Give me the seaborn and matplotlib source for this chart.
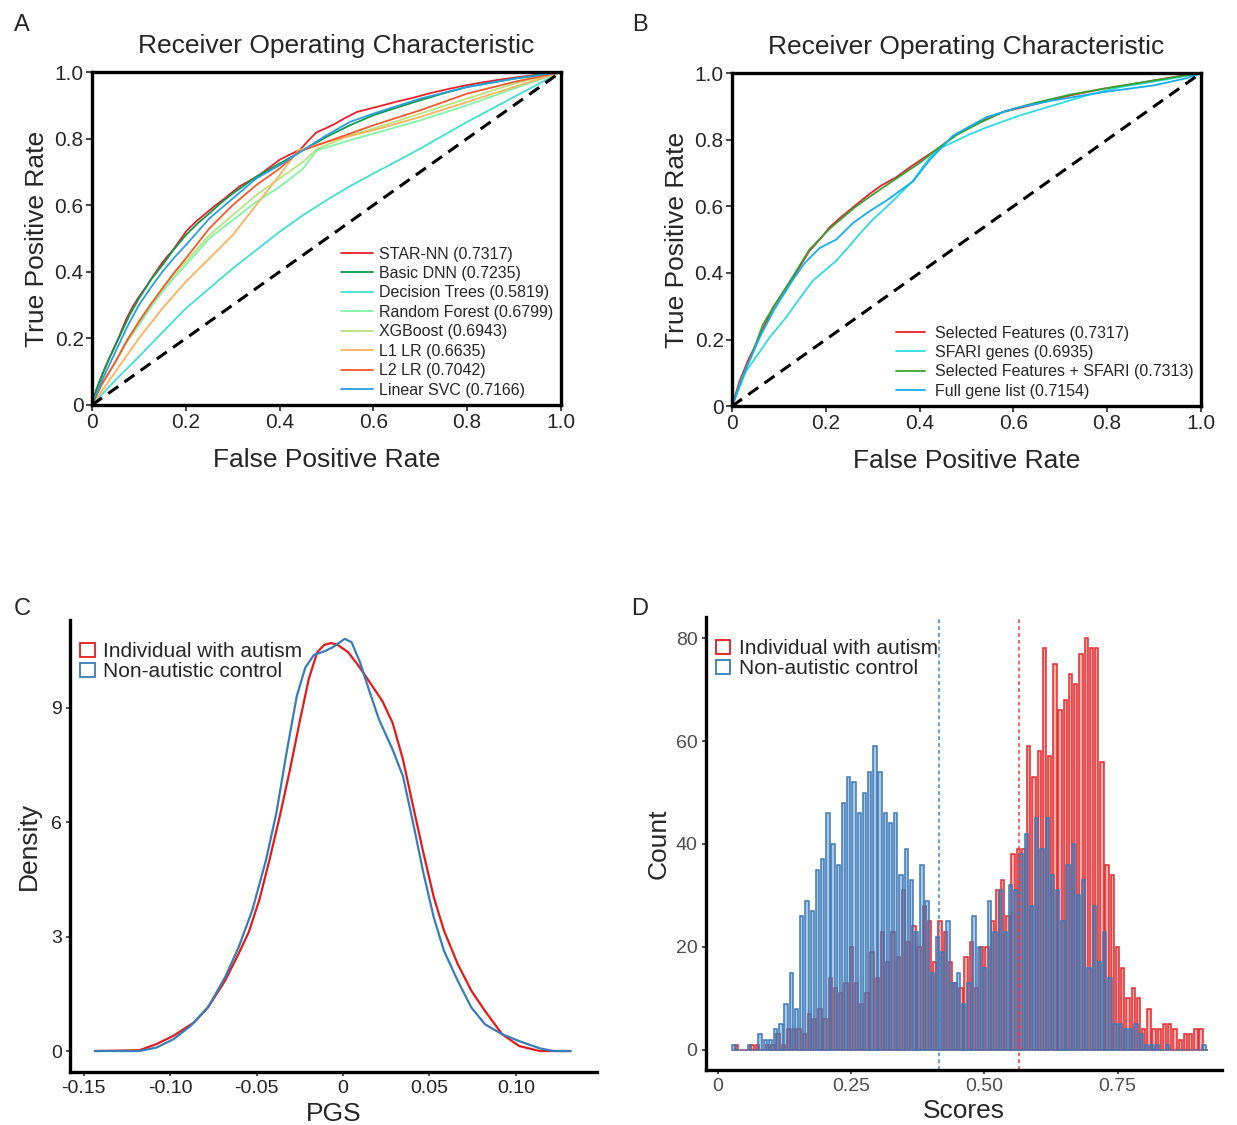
import numpy as np
import pandas as pd
import matplotlib
matplotlib.use("Agg")
import matplotlib.pyplot as plt
from matplotlib.patches import Patch
import seaborn as sns

# ---------------- panel A: ROC of the classifiers ----------------
star_fpr = [0, 0.009, 0.023, 0.04, 0.058, 0.072, 0.087, 0.1, 0.116, 0.13, 0.144, 0.158, 0.173, 0.187,
            0.201, 0.222, 0.244, 0.262, 0.280, 0.298, 0.315, 0.336, 0.358, 0.38, 0.401, 0.422, 0.444,
            0.462, 0.479, 0.497, 0.515, 0.54, 0.565, 0.59, 0.615, 0.65, 0.686, 0.72, 0.757, 0.79, 0.829,
            0.865, 0.900, 0.95, 1.0]
star_tpr = [0, 0.045, 0.095, 0.15, 0.206, 0.255, 0.296, 0.325, 0.356, 0.387, 0.416, 0.442, 0.466, 0.494,
            0.522, 0.551, 0.577, 0.598, 0.617, 0.638, 0.657, 0.673, 0.692, 0.715, 0.737, 0.752, 0.767,
            0.795, 0.819, 0.830, 0.842, 0.862, 0.880, 0.889, 0.898, 0.911, 0.923, 0.936, 0.948, 0.958,
            0.968, 0.976, 0.983, 0.992, 1.0]
dnn_fpr = [0, 0.01, 0.03, 0.045, 0.06, 0.08, 0.1, 0.125, 0.15, 0.175, 0.2, 0.225, 0.25, 0.275, 0.3, 0.35,
           0.4, 0.45, 0.5, 0.55, 0.6, 0.65, 0.7, 0.75, 0.8, 0.9, 1]
dnn_tpr = [0, 0.05, 0.12, 0.165, 0.21, 0.27, 0.32, 0.375, 0.42, 0.468, 0.51, 0.545, 0.575, 0.607, 0.635,
           0.685, 0.725, 0.765, 0.805, 0.84, 0.87, 0.893, 0.915, 0.936, 0.955, 0.98, 1]
dt_fpr = [0, 0.05, 0.1, 0.15, 0.2, 0.25, 0.3, 0.35, 0.4, 0.45, 0.5, 0.55, 0.6, 0.65, 0.7, 0.8, 0.9, 1]
dt_tpr = [0, 0.075, 0.145, 0.218, 0.29, 0.35, 0.41, 0.465, 0.52, 0.57, 0.615, 0.657, 0.695, 0.732, 0.77,
          0.85, 0.925, 1]
rf_fpr = [0, 0.02, 0.05, 0.075, 0.1, 0.125, 0.15, 0.175, 0.2, 0.25, 0.3, 0.35, 0.4, 0.45, 0.48, 0.52,
          0.55, 0.6, 0.7, 0.8, 0.9, 1]
rf_tpr = [0, 0.06, 0.13, 0.19, 0.24, 0.293, 0.34, 0.383, 0.42, 0.50, 0.555, 0.61, 0.655, 0.71, 0.765,
          0.782, 0.795, 0.815, 0.855, 0.90, 0.95, 1]
xgb_fpr = [0, 0.02, 0.05, 0.075, 0.1, 0.125, 0.15, 0.175, 0.2, 0.25, 0.3, 0.35, 0.4, 0.45, 0.48, 0.52,
           0.55, 0.6, 0.7, 0.8, 0.9, 1]
xgb_tpr = [0, 0.06, 0.13, 0.195, 0.25, 0.302, 0.35, 0.393, 0.43, 0.51, 0.57, 0.63, 0.68, 0.73, 0.77,
           0.792, 0.81, 0.83, 0.875, 0.92, 0.965, 1]
l1_fpr = [0, 0.05, 0.1, 0.15, 0.2, 0.25, 0.3, 0.35, 0.4, 0.44, 0.5, 0.6, 0.7, 0.8, 0.9, 1]
l1_tpr = [0, 0.1, 0.2, 0.29, 0.37, 0.44, 0.51, 0.60, 0.69, 0.765, 0.79, 0.825, 0.865, 0.91, 0.955, 1]
l2_fpr = [0, 0.02, 0.05, 0.075, 0.1, 0.125, 0.15, 0.175, 0.2, 0.25, 0.3, 0.35, 0.4, 0.44, 0.5, 0.6, 0.7,
          0.8, 0.9, 1]
l2_tpr = [0, 0.06, 0.13, 0.195, 0.25, 0.302, 0.35, 0.397, 0.44, 0.53, 0.60, 0.66, 0.71, 0.76, 0.79, 0.84,
          0.885, 0.935, 0.97, 1]
svc_fpr = [0, 0.02, 0.05, 0.075, 0.1, 0.125, 0.15, 0.175, 0.2, 0.25, 0.3, 0.35, 0.4, 0.45, 0.5, 0.55,
           0.6, 0.7, 0.8, 0.9, 1]
svc_tpr = [0, 0.07, 0.16, 0.235, 0.30, 0.352, 0.40, 0.442, 0.48, 0.56, 0.62, 0.68, 0.72, 0.765, 0.81,
           0.85, 0.875, 0.92, 0.955, 0.98, 1]

models_a = ["STAR-NN (0.7317)", "Basic DNN (0.7235)", "Decision Trees (0.5819)",
            "Random Forest (0.6799)", "XGBoost (0.6943)", "L1 LR (0.6635)",
            "L2 LR (0.7042)", "Linear SVC (0.7166)"]
colors_a = ["#e8202a", "#0a9a4a", "#3fe0d0", "#7ff3a6", "#b8e37e", "#fbb25c", "#f5582a", "#2b9ee0"]
curves_a = [(star_fpr, star_tpr), (dnn_fpr, dnn_tpr), (dt_fpr, dt_tpr), (rf_fpr, rf_tpr),
            (xgb_fpr, xgb_tpr), (l1_fpr, l1_tpr), (l2_fpr, l2_tpr), (svc_fpr, svc_tpr)]

# ---------------- panel B: ROC of the feature sets ----------------
sel_fpr = [0, 0.016, 0.035, 0.058, 0.087, 0.13, 0.165, 0.19, 0.208, 0.232, 0.258, 0.293, 0.32, 0.35,
           0.375, 0.40, 0.443, 0.479, 0.528, 0.578, 0.65, 0.721, 0.792, 0.85, 0.899, 0.95, 1]
sel_tpr = [0, 0.075, 0.14, 0.206, 0.296, 0.386, 0.466, 0.505, 0.537, 0.567, 0.597, 0.637, 0.664, 0.687,
           0.713, 0.737, 0.777, 0.817, 0.853, 0.883, 0.908, 0.933, 0.953, 0.966, 0.978, 0.99, 1]
sfari_fpr = [0, 0.03, 0.08, 0.115, 0.145, 0.172, 0.2, 0.222, 0.25, 0.272, 0.3, 0.329, 0.36, 0.386,
             0.422, 0.445, 0.471, 0.505, 0.543, 0.614, 0.685, 0.756, 0.828, 0.88, 0.934, 1]
sfari_tpr = [0, 0.105, 0.206, 0.266, 0.325, 0.376, 0.41, 0.436, 0.48, 0.517, 0.56, 0.597, 0.64, 0.677,
             0.747, 0.775, 0.792, 0.815, 0.837, 0.873, 0.903, 0.933, 0.958, 0.97, 0.983, 1]
both_fpr = [0, 0.02, 0.045, 0.066, 0.09, 0.13, 0.165, 0.21, 0.26, 0.3, 0.35, 0.4, 0.44, 0.48, 0.53, 0.58,
            0.65, 0.72, 0.8, 0.9, 1]
both_tpr = [0, 0.08, 0.165, 0.246, 0.30, 0.39, 0.47, 0.535, 0.595, 0.635, 0.683, 0.73, 0.775, 0.815,
            0.852, 0.885, 0.912, 0.935, 0.955, 0.978, 1]
full_fpr = [0, 0.02, 0.06, 0.09, 0.13, 0.155, 0.187, 0.222, 0.258, 0.293, 0.329, 0.386, 0.422, 0.471,
            0.543, 0.614, 0.685, 0.792, 0.899, 0.97, 1]
full_tpr = [0, 0.08, 0.21, 0.29, 0.38, 0.43, 0.475, 0.50, 0.55, 0.585, 0.617, 0.675, 0.74, 0.812, 0.868,
            0.898, 0.918, 0.943, 0.963, 0.985, 1]

models_b = ["Selected Features (0.7317)", "SFARI genes (0.6935)",
            "Selected Features + SFARI (0.7313)", "Full gene list (0.7154)"]
colors_b = ["#e8202a", "#2edbe3", "#33a532", "#12aef0"]
curves_b = [(sel_fpr, sel_tpr), (sfari_fpr, sfari_tpr), (both_fpr, both_tpr), (full_fpr, full_tpr)]

chance = [0, 1]

# ---------------- panel C: PGS density ----------------
pgs_asd = [-0.1436, -0.1179, -0.1080, -0.0981, -0.0862, -0.0782, -0.0683, -0.0604, -0.0545, -0.0485,
           -0.0426, -0.0366, -0.0307, -0.0248, -0.0198, -0.0149, -0.0109, -0.0069, -0.0030, 0.0030,
           0.0089, 0.0149, 0.0228, 0.0287, 0.0347, 0.0406, 0.0466, 0.0525, 0.0584, 0.0664, 0.0743,
           0.0822, 0.0921, 0.1020, 0.1139, 0.1317]
dens_asd = [0, 0.02, 0.18, 0.40, 0.75, 1.14, 1.84, 2.55, 3.12, 3.95, 5.0, 6.15, 7.37, 8.69, 9.75, 10.45,
            10.64, 10.69, 10.64, 10.45, 10.1, 9.7, 9.17, 8.6, 7.64, 6.41, 5.18, 4.04, 3.16, 2.28, 1.58,
            1.05, 0.44, 0.13, 0.0, 0.0]
pgs_ctrl = [-0.1436, -0.1179, -0.1080, -0.0981, -0.0882, -0.0782, -0.0683, -0.0604, -0.0525, -0.0446,
            -0.0386, -0.0327, -0.0267, -0.0218, -0.0168, -0.0109, -0.0059, 0.0010, 0.0050, 0.0099,
            0.0149, 0.0208, 0.0287, 0.0347, 0.0406, 0.0466, 0.0525, 0.0584, 0.0664, 0.0743, 0.0822,
            0.0921, 0.1020, 0.1139, 0.1218, 0.1317]
dens_ctrl = [0, 0, 0.09, 0.31, 0.66, 1.14, 1.93, 2.72, 3.69, 5.0, 6.23, 7.81, 9.31, 10.05, 10.38, 10.47,
             10.58, 10.80, 10.71, 10.18, 9.48, 8.69, 7.90, 7.20, 5.97, 4.65, 3.51, 2.63, 1.84, 1.14, 0.70,
             0.44, 0.26, 0.07, 0.0, 0.0]

# ---------------- panel D: score histogram ----------------
score_bin_start = 0.030
score_bin_width = 0.0098
count_ctrl = [1, 0, 0, 1, 0, 3, 2, 2, 4, 5,
              9, 15, 8, 26, 29, 27, 35, 37, 46, 40,
              36, 48, 53, 52, 46, 50, 54, 59, 54, 46,
              44, 46, 34, 39, 33, 23, 36, 29, 15, 22,
              19, 25, 13, 15, 9, 13, 26, 20, 16, 29,
              23, 31, 23, 32, 31, 38, 42, 28, 45, 39,
              45, 34, 31, 25, 36, 40, 30, 33, 16, 28,
              17, 23, 14, 5, 5, 4, 4, 5, 3, 1,
              1, 1, 0, 1, 0, 0, 0, 0, 0, 0,
              1]
count_asd = [1, 0, 0, 1, 1, 0, 1, 1, 3, 1,
             4, 4, 4, 3, 7, 6, 8, 6, 14, 12,
             11, 13, 20, 13, 9, 11, 19, 14, 23, 17,
             23, 18, 31, 21, 24, 20, 28, 25, 17, 25,
             23, 17, 13, 12, 18, 21, 12, 20, 20, 25,
             31, 33, 26, 38, 39, 39, 59, 53, 58, 78,
             57, 75, 66, 68, 73, 71, 77, 80, 78, 78,
             56, 36, 34, 20, 16, 10, 12, 10, 4, 8,
             4, 4, 5, 5, 4, 2, 3, 3, 4, 4,
             0]
asd_bin_offset = 0.0045
mean_ctrl = 0.4156
mean_asd = 0.565

RED = "#e41a1c"
BLUE = "#377eb8"

sns.set_style("white")
plt.rcParams["font.family"] = ["Liberation Sans", "DejaVu Sans"]

fig = plt.figure(figsize=(12.37, 11.25), dpi=100)


def roc_panel(ax, names, colors, curves, leg_kw):
    rows = []
    for name, (f, t) in zip(names, curves):
        for a, b in zip(f, t):
            rows.append((name, a, b))
    df = pd.DataFrame(rows, columns=["model", "fpr", "tpr"])
    sns.lineplot(data=df, x="fpr", y="tpr", hue="model", hue_order=names,
                 palette=dict(zip(names, colors)), sort=False, estimator=None,
                 linewidth=1.3, ax=ax)
    ax.plot(chance, chance, color="black", linestyle=(0, (4, 2.5)), linewidth=2.2)
    ax.set_xlim(0, 1)
    ax.set_ylim(0, 1)
    ticks = [0, 0.2, 0.4, 0.6, 0.8, 1.0]
    lab = ["0", "0.2", "0.4", "0.6", "0.8", "1.0"]
    ax.set_xticks(ticks, lab)
    ax.set_yticks(ticks, lab)
    ax.tick_params(axis="both", labelsize=15, length=4, width=1.2, direction="out",
                   bottom=True, left=True, pad=2)
    for s in ax.spines.values():
        s.set_visible(True)
        s.set_linewidth(2.4)
        s.set_color("black")
    ax.set_xlabel("False Positive Rate", fontsize=19, labelpad=11)
    ax.set_ylabel("True Positive Rate", fontsize=19, labelpad=4)
    ax.set_title("Receiver Operating Characteristic", fontsize=19, pad=14)
    h, l = ax.get_legend_handles_labels()
    ax.legend(h[:len(names)], l[:len(names)], loc="lower right", frameon=False,
              fontsize=11.5, labelspacing=0.28, borderaxespad=0.05, **leg_kw)


# panel A
axA = fig.add_axes([0.0744, 0.640, 0.379, 0.296])
roc_panel(axA, models_a, colors_a, curves_a, dict(handlelength=2.0, handletextpad=0.4))
axA.title.set_x(0.52)

# panel B
axB = fig.add_axes([0.5918, 0.639, 0.379, 0.296])
roc_panel(axB, models_b, colors_b, curves_b, dict(handlelength=1.8, handletextpad=0.65))


def classic_axes(ax, labcolor):
    sns.despine(ax=ax)
    for s in ["left", "bottom"]:
        ax.spines[s].set_linewidth(2.4)
        ax.spines[s].set_color("black")
    ax.tick_params(axis="both", labelsize=14, length=3, width=1.2, color="#333333",
                   labelcolor=labcolor, bottom=True, left=True, direction="out", pad=3)


# panel C
axC = fig.add_axes([0.0566, 0.0471, 0.426, 0.402])
dc = pd.concat([
    pd.DataFrame({"PGS": pgs_asd, "Density": dens_asd, "group": "Individual with autism"}),
    pd.DataFrame({"PGS": pgs_ctrl, "Density": dens_ctrl, "group": "Non-autistic control"}),
])
sns.lineplot(data=dc, x="PGS", y="Density", hue="group", sort=False, estimator=None,
             palette={"Individual with autism": RED, "Non-autistic control": BLUE},
             linewidth=1.6, legend=False, ax=axC)
axC.set_xlim(-0.158, 0.147)
axC.set_ylim(-0.55, 11.3)
axC.set_xticks([-0.15, -0.10, -0.05, 0, 0.05, 0.10], ["-0.15", "-0.10", "-0.05", "0", "0.05", "0.10"])
axC.set_yticks([0, 3, 6, 9], ["0", "3", "6", "9"])
classic_axes(axC, "#222222")
axC.set_xlabel("PGS", fontsize=19, labelpad=3)
axC.set_ylabel("Density", fontsize=19, labelpad=7)

# panel D
axD = fig.add_axes([0.5707, 0.0489, 0.417, 0.4027])
centers = score_bin_start + score_bin_width * np.arange(len(count_ctrl))
lo = centers[0] - score_bin_width / 2
hi = centers[-1] + score_bin_width / 2
sns.histplot(x=centers + asd_bin_offset, weights=count_asd, binwidth=score_bin_width,
             binrange=(lo + asd_bin_offset, hi + asd_bin_offset),
             shrink=0.64, facecolor=(0.89, 0.10, 0.11, 0.33), edgecolor="#e8262a",
             linewidth=1.1, ax=axD)
sns.histplot(x=centers, weights=count_ctrl, binwidth=score_bin_width, binrange=(lo, hi),
             shrink=0.64, facecolor=(0.22, 0.49, 0.74, 0.42), edgecolor="#3b78b8",
             linewidth=1.1, ax=axD)
axD.axvline(mean_ctrl, color="#3b86c8", linestyle=(0, (2.5, 2)), linewidth=1.1)
axD.axvline(mean_asd, color="#e8413c", linestyle=(0, (2.5, 2)), linewidth=1.1)
axD.set_xlim(-0.0225, 0.9456)
axD.set_ylim(-3.9, 84.1)
axD.set_xticks([0, 0.25, 0.50, 0.75], ["0", "0.25", "0.50", "0.75"])
axD.set_yticks([0, 20, 40, 60, 80], ["0", "20", "40", "60", "80"])
classic_axes(axD, "#4d4d4d")
axD.set_xlabel("Scores", fontsize=19, labelpad=3)
axD.set_ylabel("Count", fontsize=19, labelpad=4)

for ax in (axC, axD):
    handles = [Patch(facecolor="white", edgecolor=RED, linewidth=1.3),
               Patch(facecolor="white", edgecolor=BLUE, linewidth=1.3)]
    ax.legend(handles, ["Individual with autism", "Non-autistic control"], loc="upper left",
              bbox_to_anchor=(0.015, 0.955), frameon=False, fontsize=15, handlelength=0.7,
              handleheight=0.7, handletextpad=0.4, labelspacing=0.05, borderaxespad=0,
              borderpad=0.1)

for letter, x, y in [("A", 0.0178, 0.978), ("B", 0.517, 0.978), ("C", 0.0178, 0.4585), ("D", 0.517, 0.4585)]:
    fig.text(x, y, letter, fontsize=17, ha="center", va="center")

fig.savefig("out.png", dpi=100)
